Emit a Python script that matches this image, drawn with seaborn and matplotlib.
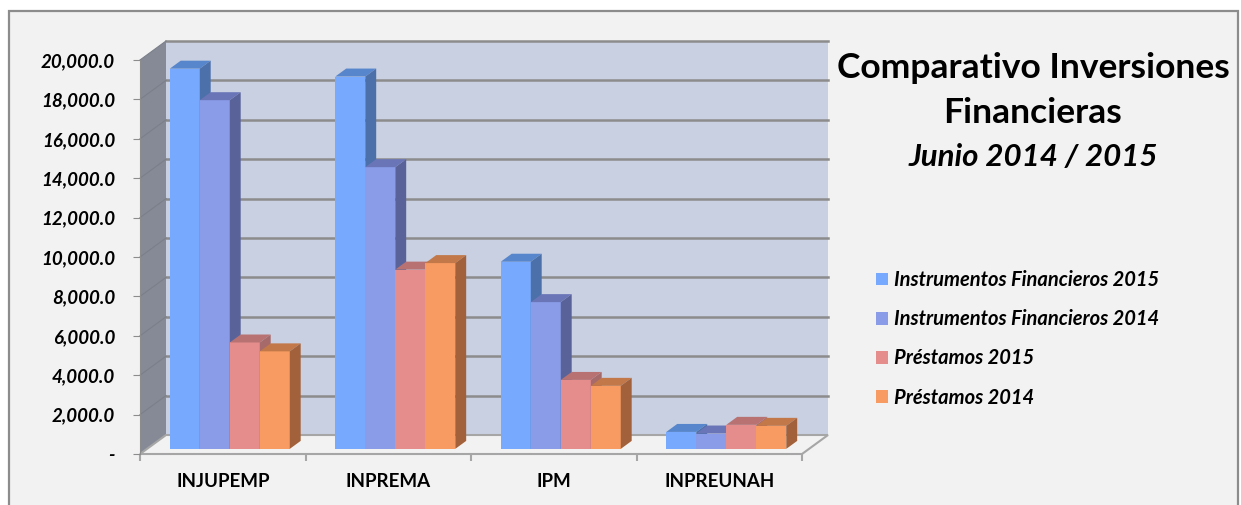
import numpy as np
import pandas as pd
import matplotlib
matplotlib.use("Agg")
import matplotlib.pyplot as plt
import seaborn as sns
from matplotlib.patches import Polygon, Rectangle, Patch
from matplotlib.ticker import FuncFormatter, FixedLocator

# datos
instituciones = ["INJUPEMP", "INPREMA", "IPM", "INPREUNAH"]
series = ["Instrumentos Financieros 2015", "Instrumentos Financieros 2014",
          "Préstamos 2015", "Préstamos 2014"]
inst_fin_2015 = [19300, 18900, 9500, 860]
inst_fin_2014 = [17700, 14300, 7450, 780]
prestamos_2015 = [5400, 9100, 3500, 1220]
prestamos_2014 = [4950, 9430, 3200, 1170]

colores = ["#77AAFF", "#8A9CE8", "#E58D8D", "#F79B62"]
colores_lado = ["#4C70AA", "#5A6399", "#A66A6A", "#A2613A"]
colores_tapa = ["#5886CC", "#6A75B8", "#B87272", "#C27848"]

df = pd.DataFrame({
    "Institucion": instituciones * 4,
    "Serie": np.repeat(series, len(instituciones)),
    "Monto": inst_fin_2015 + inst_fin_2014 + prestamos_2015 + prestamos_2014,
})

plt.rcParams['font.family'] = ['Lato', 'DejaVu Sans']

W, H = 1241, 505
fig = plt.figure(figsize=(W / 100, H / 100), dpi=100)
fig.patch.set_facecolor("white")
fig.patches.append(Rectangle((9 / W, -0.1), (1238 - 9) / W, 1 - 11 / H + 0.1,
                             transform=fig.transFigure, facecolor="#F2F2F2",
                             edgecolor="#8C8C8C", lw=1.6, zorder=-10))

ax = fig.add_axes([140 / W, 51 / H, 662 / W, 394 / H])
ax.set_xlim(-0.5, 3.5)
ax.set_ylim(0, 20000)
ax.patch.set_visible(False)

# profundidad del efecto 3D (en unidades de datos)
DX = 26 / 662 * 4
DY = 19 / 394 * 20000

sns.barplot(data=df, x="Institucion", y="Monto", hue="Serie", palette=colores,
            width=0.725, saturation=1, linewidth=0, legend=False, ax=ax)
barras = list(ax.patches)

f0, bd = 0.27, 0.42
for b in barras:
    x, w, h = b.get_x(), b.get_width(), b.get_height()
    c = round(x + w / 2)
    k = int(round((x + w / 2 - c + 0.725 / 2) / w - 0.5))
    x = x + f0 * DX
    y0 = f0 * DY
    b.set_x(x)
    b.set_y(y0)
    b.set_zorder(3 + k)
    b.set_clip_on(False)
    ex, ey = bd * DX, bd * DY
    ax.add_patch(Polygon([(x, y0 + h), (x + w, y0 + h), (x + w + ex, y0 + h + ey), (x + ex, y0 + h + ey)],
                         closed=True, fc=colores_tapa[k], ec="none", zorder=3 + k, clip_on=False))
    ax.add_patch(Polygon([(x + w, y0), (x + w + ex, y0 + ey), (x + w + ex, y0 + h + ey), (x + w, y0 + h)],
                         closed=True, fc=colores_lado[k], ec="none", zorder=3 + k, clip_on=False))

# pared del fondo, pared lateral y piso
ax.add_patch(Rectangle((-0.5 + DX, DY), 4, 20000, fc="#C8D0E2", ec="none", zorder=0, clip_on=False))
ax.add_patch(Polygon([(-0.5, 0), (-0.5 + DX, DY), (-0.5 + DX, 20000 + DY), (-0.5, 20000)],
                     closed=True, fc="#858A96", ec="none", zorder=0, clip_on=False))
ax.add_patch(Polygon([(-0.5, 0), (3.5, 0), (3.5 + DX, DY), (-0.5 + DX, DY)],
                     closed=True, fc="#F2F2F2", ec="#A6A6A6", lw=1.5, zorder=1, clip_on=False))
for v in range(2000, 20001, 2000):
    ax.plot([-0.5 + DX, 3.5 + DX], [v + DY, v + DY], color="#8C8C8C", lw=1.8, zorder=1, clip_on=False)
    ax.plot([-0.5, -0.5 + DX], [v, v + DY], color="#7A7F8A", lw=0.8, zorder=1, clip_on=False)

for s in ["top", "right", "bottom"]:
    ax.spines[s].set_visible(False)
ax.spines["left"].set_color("#8C8C8C")
ax.spines["left"].set_zorder(2)

ax.set_yticks(range(0, 20001, 2000))
ax.yaxis.set_major_formatter(FuncFormatter(lambda v, p: "-" if v == 0 else f"{v:,.1f}"))
ax.tick_params(axis="y", length=5, color="#8C8C8C", pad=13, labelsize=13.5)
for t in ax.get_yticklabels():
    t.set_fontweight("bold")
    t.set_fontstyle("italic")

ax.set_xticks(range(4))
ax.set_xticklabels(instituciones, fontweight="bold", fontsize=13.5)
ax.xaxis.set_minor_locator(FixedLocator([-0.5, 0.5, 1.5, 2.5, 3.5]))
ax.tick_params(axis="x", which="major", length=0, pad=14)
ax.tick_params(axis="x", which="minor", length=5, color="#A6A6A6", width=1.5)
ax.set_xlabel("")
ax.set_ylabel("")

# titulo
fig.text(1033 / W, 1 - 68 / H, "Comparativo Inversiones", ha="center", va="center",
         fontsize=25.5, fontweight="bold")
fig.text(1033 / W, 1 - 113 / H, "Financieras", ha="center", va="center",
         fontsize=25.5, fontweight="bold")
fig.text(1033 / W, 1 - 157 / H, "Junio 2014 / 2015", ha="center", va="center",
         fontsize=22.5, fontweight="bold", fontstyle="italic")

# leyenda
handles = [Patch(facecolor=c, edgecolor="none") for c in colores]
fig.legend(handles, series, loc="upper left", bbox_to_anchor=(858 / W, 1 - 252 / H),
           frameon=False, handlelength=0.6, handleheight=0.6, handletextpad=0.3,
           labelspacing=0.95, prop={"weight": "bold", "style": "italic", "size": 14.5})

fig.savefig("out.png", dpi=100)
